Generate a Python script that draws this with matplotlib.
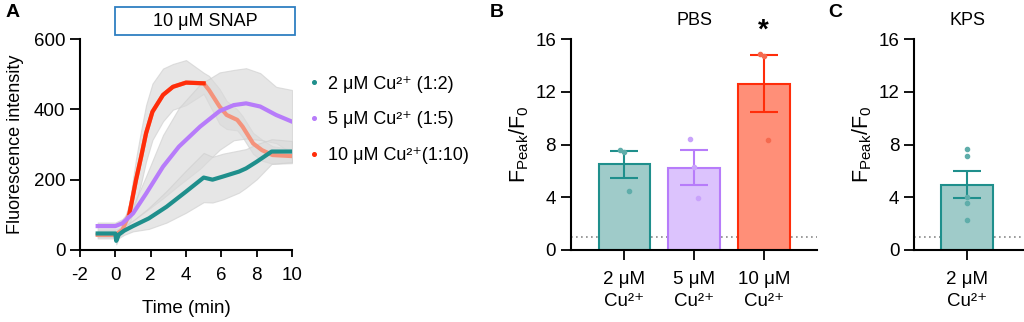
import numpy as np
import matplotlib
matplotlib.use("Agg")
import matplotlib.pyplot as plt
from matplotlib.lines import Line2D
from matplotlib.patches import Rectangle

plt.rcParams['font.family'] = ['Liberation Sans', 'DejaVu Sans']
plt.rcParams['mathtext.default'] = 'regular'
plt.rcParams['axes.unicode_minus'] = False
plt.rcParams['font.size'] = 13

# ---- panel A: time courses (mean and SEM) ----
t_2 = [-1, 0, 0.05, 0.2, 0.5, 1, 1.9, 2.9, 4, 5, 5.5, 6.1, 7, 7.4, 8, 8.85, 10]
f_2 = [47, 47, 26, 44, 55, 68, 90, 123, 166, 206, 200, 209, 223, 232, 251, 280, 280]
s_2 = [10, 10, 10, 10, 12, 15, 30, 45, 60, 70, 65, 65, 60, 55, 50, 35, 30]

t_5 = [-1, 0, 0.4, 1, 1.75, 2.7, 3.6, 4.8, 5.9, 6.7, 7.4, 8.2, 9.1, 10]
f_5 = [68, 68, 76, 104, 161, 237, 294, 351, 395, 412, 417, 408, 384, 365]
s_5 = [10, 10, 12, 20, 50, 90, 110, 120, 110, 100, 100, 95, 80, 90]

t_10 = [-1, 0, 0.4, 0.8, 1.17, 1.46, 1.74, 2.1, 2.7, 3.26, 4, 5, 5.3, 5.9,
        6.3, 6.9, 7.2, 7.8, 8.3, 8.9, 10]
f_10 = [43, 43, 57, 104, 199, 265, 332, 393, 441, 464, 476, 474, 455, 408,
        384, 370, 351, 303, 284, 270, 267]
s_10 = [10, 10, 12, 30, 60, 75, 80, 80, 75, 65, 64, 30, 40, 50,
        40, 30, 30, 30, 30, 25, 20]

legend_labels = ['2 μM Cu²⁺ (1:2)', '5 μM Cu²⁺ (1:5)', '10 μM Cu²⁺(1:10)']

# ---- panel B/C: peak ratios ----
pbs_labels = ['2 μM\nCu²⁺', '5 μM\nCu²⁺', '10 μM\nCu²⁺']
pbs_mean = [6.5, 6.25, 12.6]
pbs_sem = [1.02, 1.3, 2.15]
pbs_points = [[7.6, 7.4, 4.5], [8.4, 6.3, 3.95], [14.9, 14.7, 8.35]]

kps_labels = ['2 μM\nCu²⁺']
kps_mean = [4.95]
kps_sem = [1.02]
kps_points = [[7.65, 7.15, 4.0, 3.6, 2.3]]

teal = '#1f8f8c'
purple = '#b77cfa'
red = '#ff2d0a'
salmon = '#f4937c'
edge_cols = [teal, purple, red]
fill_cols = ['#9fcbc9', '#dcc3fd', '#ff8f78']
dot_cols = ['#5fadaa', '#c9a3fb', '#f56a4f']

W, H = 1024, 322
fig = plt.figure(figsize=(W / 100, H / 100), dpi=100)


def style(ax):
    for s in ['top', 'right']:
        ax.spines[s].set_visible(False)
    for s in ['left', 'bottom']:
        ax.spines[s].set_linewidth(1.5)
    ax.tick_params(width=1.3, length=7, labelsize=13.5)
    ax.tick_params(axis='x', pad=6)


# panel A
axA = fig.add_axes([80 / W, 72 / H, 212 / W, 211 / H])
style(axA)
axA.tick_params(axis='x', length=5, pad=7)
for t, f, s in [(t_10, f_10, s_10), (t_5, f_5, s_5), (t_2, f_2, s_2)]:
    f = np.array(f)
    s = np.array(s)
    axA.fill_between(t, f - s, f + s, color='#dadada', alpha=0.65, lw=0.8,
                     edgecolor='#cfcfcf')
axA.plot(t_10, f_10, color=salmon, lw=3)
mid = slice(3, 12)
axA.plot(t_10[mid], f_10[mid], color=red, lw=3)
axA.plot(t_5, f_5, color=purple, lw=3)
axA.plot(t_2, f_2, color=teal, lw=3)
axA.set_xlim(-2, 10)
axA.set_ylim(0, 600)
axA.set_xticks([-2, 0, 2, 4, 6, 8, 10])
axA.set_yticks([0, 200, 400, 600])
axA.set_xlabel('Time (min)', fontsize=13.5, labelpad=12)
axA.set_ylabel('Fluorescence intensity', fontsize=13, labelpad=7)

handles = [Line2D([], [], ls='none', marker='o', ms=2.6, color=c)
           for c in [teal, purple, red]]
fig.legend(handles, legend_labels, loc='center left',
           bbox_to_anchor=(308.6 / W, (H - 120) / H), frameon=False,
           borderpad=0, borderaxespad=0, handlelength=0.6,
           handletextpad=0.5, labelspacing=1.05, fontsize=13)

fig.add_artist(Rectangle((115 / W, (H - 35) / H), 180 / W, 28 / H,
                         transform=fig.transFigure, fill=False,
                         edgecolor='#2f7fc1', lw=1.3))
fig.text(205 / W, (H - 21) / H, '10 μM SNAP', ha='center', va='center',
         fontsize=13)


def bar_panel(ax, labels, mean, sem, points, cols_idx):
    style(ax)
    x = np.arange(len(labels))
    for i, k in enumerate(cols_idx):
        ax.bar(x[i], mean[i], width=0.74, color=fill_cols[k],
               edgecolor=edge_cols[k], linewidth=1.5, zorder=2)
        ax.errorbar(x[i], mean[i], yerr=sem[i], color=edge_cols[k],
                    elinewidth=1.5, capsize=10, capthick=1.5, zorder=3)
        pts = points[i]
        jit = np.linspace(-0.06, 0.06, len(pts)) if len(pts) <= 3 else np.zeros(len(pts))
        ax.plot(x[i] + np.array(jit), pts, ls='none', marker='o', ms=3,
                color=dot_cols[k], zorder=4)
    ax.axhline(1, color='#8a8a8a', lw=1.2, ls=(0, (1, 2)), zorder=1)
    ax.set_ylim(0, 16)
    ax.set_yticks([0, 4, 8, 12, 16])
    ax.set_xticks(x)
    ax.set_xticklabels(labels, linespacing=1.4)
    ax.tick_params(axis='x', pad=8)
    ax.set_ylabel(r'F$_{Peak}$/F$_0$', fontsize=15.5, labelpad=3)


axB = fig.add_axes([570.7 / W, 72 / H, 246 / W, 211 / H])
bar_panel(axB, pbs_labels, pbs_mean, pbs_sem, pbs_points, [0, 1, 2])
axB.set_xlim(-0.77, 2.76)
axB.text(1, 17.4, 'PBS', ha='center', va='center', fontsize=13, clip_on=False)
axB.text(2, 16.6, '*', ha='center', va='center', fontsize=20,
         fontweight='bold', clip_on=False)

axC = fig.add_axes([914 / W, 72 / H, 109 / W, 211 / H])
bar_panel(axC, kps_labels, kps_mean, kps_sem, kps_points, [0])
axC.set_xlim(-0.76, 0.8)
axC.text(0, 17.4, 'KPS', ha='center', va='center', fontsize=13, clip_on=False)

fig.text(6 / W, (H - 4) / H, 'A', ha='left', va='top', fontsize=14,
         fontweight='bold')
fig.text(490 / W, (H - 4) / H, 'B', ha='left', va='top', fontsize=14,
         fontweight='bold')
fig.text(828 / W, (H - 4) / H, 'C', ha='left', va='top', fontsize=14,
         fontweight='bold')

fig.savefig('out.png', dpi=100)
